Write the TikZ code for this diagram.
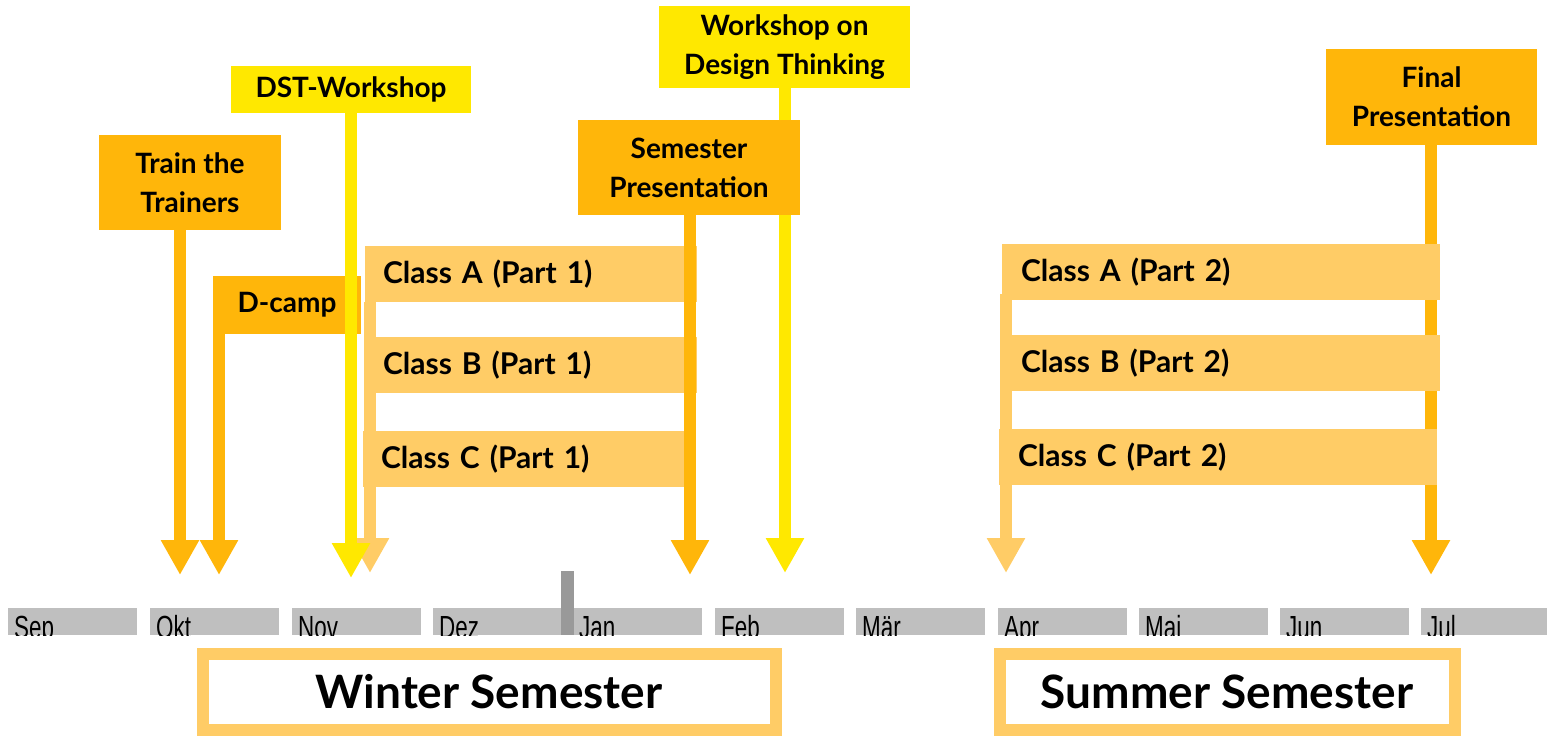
\documentclass[tikz,border=0pt]{standalone}
\usepackage{fontspec}
\setmainfont{Lato}
\newfontfamily\monthfont{Liberation Sans}
\usetikzlibrary{arrows.meta}
\definecolor{dorange}{HTML}{FFB60A}
\definecolor{lorange}{HTML}{FFCC66}
\definecolor{wyellow}{HTML}{FFE800}
\definecolor{mgray}{HTML}{BFBFBF}
\definecolor{dgray}{HTML}{999999}
\begin{document}
\begin{tikzpicture}[x=1pt,y=-1pt,
  evbox/.style={inner sep=0pt, align=center, font=\fontsize{28}{39}\selectfont\bfseries},
  clsbox/.style={fill=lorange, inner xsep=18pt, inner ysep=0pt, minimum height=56pt, align=left, font=\fontsize{30}{34}\selectfont\bfseries},
  evarrow/.style={line width=12pt, -{Triangle[width=36pt 0 0,length=35pt 0 0]}},
  monthtxt/.style={inner sep=0pt, anchor=base west, font=\monthfont\fontsize{32}{34}\selectfont, xscale=0.7, transform shape},
  semframe/.style={draw=lorange, line width=12pt, fill=white},
  semtxt/.style={inner sep=0pt, font=\fontsize{46}{52}\selectfont\bfseries}
]
\useasboundingbox (0,0) rectangle (1547,736);

% month bars
\foreach \mx/\mn in {8/Sep,150/Okt,292/Nov,433/Dez,573/Jan,715/Feb,856/Mär,998/Apr,1139/Mai,1280/Jun,1421/Jul}{
  \begin{scope}
    \clip (\mx,608) rectangle ++(129,27);
    \fill[mgray] (\mx,608) rectangle ++(129,27);
    \node[monthtxt] (m\mn) at (\mx+6,638) {\mn};
  \end{scope}
}
\fill[dgray] (561,571) rectangle (574,635);

% semester frames
\draw[semframe] (203,654) rectangle (776,730);
\node[semtxt] (winter) at (489,692) {Winter Semester};
\draw[semframe] (1000,654) rectangle (1455,730);
\node[semtxt] (summer) at (1227,692) {Summer Semester};

% tip coordinates
\coordinate (tipT) at (180,575);
\coordinate (tipD) at (219,575);
\coordinate (tipW) at (351,578);
\coordinate (tipC1) at (370,573);
\coordinate (tipS) at (690,575);
\coordinate (tipDT) at (785,573);
\coordinate (tipC2) at (1006,573);
\coordinate (tipF) at (1431,575);

% Train the Trainers
\node[evbox, fill=dorange, minimum width=182pt, minimum height=95pt] (ttt) at (190,182.5) {Train the\\Trainers};
\draw[evarrow, dorange] (ttt.south -| tipT) -- (tipT);

% classes part 1
\node[clsbox, text width=296pt] (c1a) at (531,274) {Class A (Part 1)};
\node[clsbox, text width=296pt] (c1b) at (531,365) {Class B (Part 1)};
\node[clsbox, text width=285pt] (c1c) at (523.5,459) {Class C (Part 1)};
\draw[evarrow, lorange] (c1a.south -| tipC1) -- (tipC1);

% D-camp
\node[evbox, fill=dorange, minimum width=148pt, minimum height=58pt] (dcamp) at (287,305) {D-camp};
\draw[evarrow, dorange] (dcamp.south -| tipD) -- (tipD);

% DST-Workshop
\node[evbox, fill=wyellow, minimum width=240pt, minimum height=47pt] (dst) at (351,89.5) {DST-Workshop};
\draw[evarrow, wyellow] (dst.south) -- (tipW);

% Workshop on Design Thinking
\node[evbox, fill=wyellow, minimum width=251pt, minimum height=82pt] (wdt) at (784.5,47) {Workshop on\\Design Thinking};
\draw[evarrow, wyellow] (wdt.south -| tipDT) -- (tipDT);

% Semester Presentation
\node[evbox, fill=dorange, minimum width=222pt, minimum height=95pt] (semp) at (689,167.5) {Semester\\Presentation};
\draw[evarrow, dorange] (semp.south -| tipS) -- (tipS);

% Final Presentation and classes part 2
\node[evbox, fill=dorange, minimum width=211pt, minimum height=96pt] (finp) at (1431.5,97) {Final\\Presentation};
\draw[evarrow, dorange] (finp.south -| tipF) -- (tipF);
\draw[evarrow, lorange] (1006,294) -- (tipC2);
\node[clsbox, inner xsep=19pt, text width=400pt] (c2a) at (1221,272) {Class A (Part 2)};
\node[clsbox, inner xsep=19pt, text width=400pt] (c2b) at (1221,363) {Class B (Part 2)};
\node[clsbox, inner xsep=19pt, text width=400pt] (c2c) at (1218,457) {Class C (Part 2)};
\end{tikzpicture}
\end{document}
